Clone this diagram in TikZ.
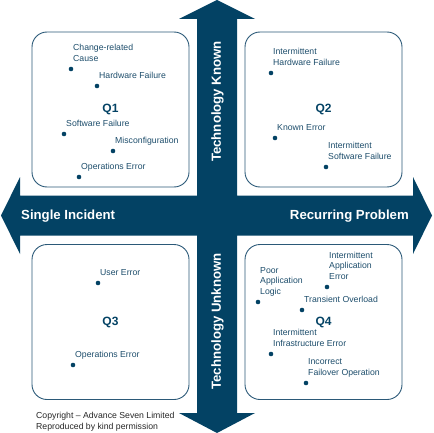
\documentclass[tikz,border=0pt]{standalone}
\usepackage{fontspec}
\setmainfont{Liberation Sans}
\usetikzlibrary{positioning}
\definecolor{navy}{HTML}{034264}
\definecolor{itemblue}{HTML}{1D4D6B}
\definecolor{boxline}{HTML}{2B5978}

\begin{document}
\begin{tikzpicture}[x=1pt, y=-1pt,
    quad/.style={draw=boxline, line width=0.9pt, rounded corners=15pt,
      minimum width=157pt, minimum height=155pt, text=navy,
      font=\fontsize{12}{14}\selectfont\bfseries},
    item/.style={text=itemblue, align=left, inner sep=0pt,
      font=\fontsize{8.7}{10.5}\selectfont, execute at end node=\strut},
    axis/.style={text=white, inner sep=0pt,
      font=\fontsize{13.2}{15}\selectfont\bfseries}]
  \useasboundingbox (0,0) rectangle (433,433);

  % cross of arrows
  \fill[navy] (217,0) -- (255,19) -- (237,19) -- (237,195.5) -- (413,195.5)
    -- (413,177) -- (432,215.5) -- (413,254) -- (413,235.5) -- (237,235.5)
    -- (237,413) -- (255,413) -- (217,433) -- (179,413) -- (197,413)
    -- (197,235.5) -- (20,235.5) -- (20,254) -- (1,215.5) -- (20,177)
    -- (20,195.5) -- (197,195.5) -- (197,19) -- (179,19) -- cycle;

  \node[axis, rotate=90] (known) at (217.5,101.5) {Technology Known};
  \node[axis, rotate=90] (unknown) at (217.5,321.5) {Technology Unknown};
  \node[axis, anchor=base west] (single) at (21,219.5) {Single Incident};
  \node[axis, anchor=base east] (recurring) at (409,219.5) {Recurring Problem};

  % quadrants
  \node[quad] (q1) at (110.5,109.5) {Q1};
  \node[quad] (q2) at (323.5,109.5) {Q2};
  \node[quad] (q3) at (110.5,322) {Q3};
  \node[quad] (q4) at (323.5,322) {Q4};

  % problems, a dot with its name
  \foreach \px/\py/\txt [count=\i] in {
      71/69/{Change-related\\Cause}, 97/86/{Hardware Failure},
      64/134/{Software Failure}, 113/151/{Misconfiguration},
      79/177/{Operations Error},
      271/73/{Intermittent\\Hardware Failure}, 275/138/{Known Error},
      326/167/{Intermittent\\Software Failure},
      98/283/{User Error}, 73/365/{Operations Error},
      327/287/{Intermittent\\Application\\Error},
      258/302/{Poor\\Application\\Logic}, 302/310/{Transient Overload},
      271/354/{Intermittent\\Infrastructure Error},
      306/383/{Incorrect\\Failover Operation}} {
        \coordinate (dot\i) at (\px,\py);
        \fill[navy] (dot\i) circle (2.3);
        \node[item, above right=4.6pt and 2pt of dot\i] (item\i) {\txt};
      }

  \node[item, text=black!85, anchor=south west] (copyright) at (36,432.6)
    {Copyright – Advance Seven Limited\\Reproduced by kind permission};
\end{tikzpicture}
\end{document}
